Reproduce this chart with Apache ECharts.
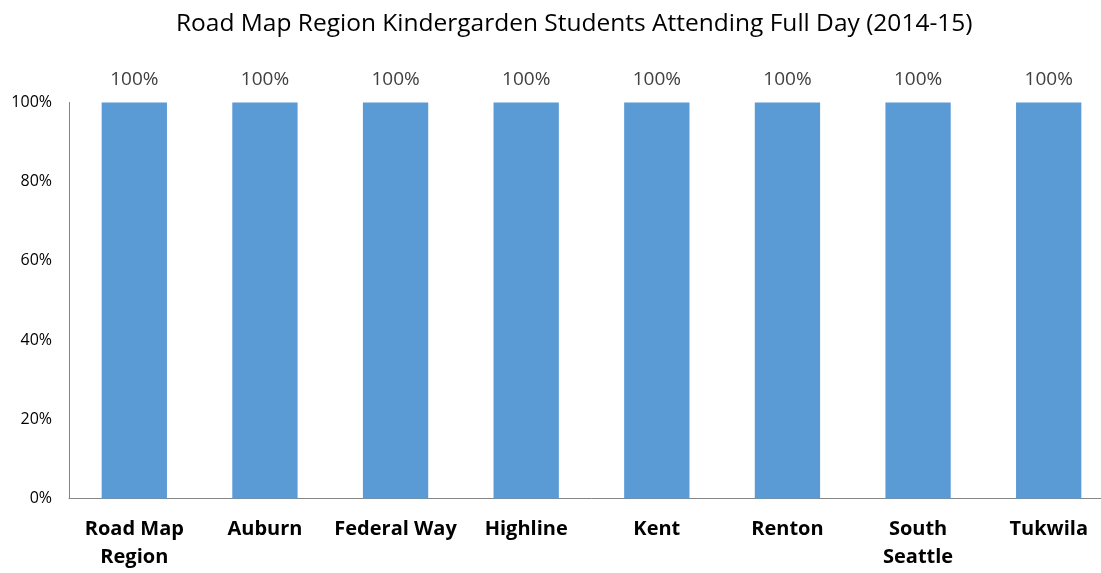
<!DOCTYPE html>
<html><head><meta charset="utf-8">
<script src="https://cdn.jsdelivr.net/npm/echarts@6/dist/echarts.min.js"></script>
<style>html,body{margin:0;padding:0;background:#fff;overflow:hidden;width:1101px;height:573px}#c{width:1130px;height:573px}</style>
</head><body><div id="c"></div>
<script>
const categories = ["Road Map\nRegion","Auburn","Federal Way","Highline","Kent","Renton","South\nSeattle","Tukwila"];
const values = [1,1,1,1,1,1,1,1];
const yTicks = [0,0.2,0.4,0.6,0.8,1.0];
const titleText = "Road Map Region Kindergarden Students Attending Full Day (2014-15)";
const chart = echarts.init(document.getElementById('c'), null, {renderer:'canvas'});
chart.setOption({
  animation:false,
  backgroundColor:'#fff',
  title:{text:titleText,left:171,top:7,textStyle:{fontFamily:'Open Sans',fontWeight:'normal',fontSize:24.5,color:'#000'}},
  grid:{left:69,width:1045,top:102.5,height:396,containLabel:false},
  xAxis:{type:'category',data:categories,
    axisLine:{lineStyle:{color:'#868686',width:1}},axisTick:{show:false},
    axisLabel:{interval:0,fontFamily:'Open Sans',fontWeight:'bold',fontSize:20,color:'#000',margin:17,lineHeight:28}},
  yAxis:{type:'value',min:0,max:1,interval:0.2,
    axisLine:{show:true,lineStyle:{color:'#868686',width:1}},axisTick:{show:false},splitLine:{show:false},
    axisLabel:{fontFamily:'Open Sans',fontSize:16,color:'#000',margin:17,formatter:v=>Math.round(v*100)+'%'}},
  series:[{type:'bar',data:values,barCategoryGap:'50%',itemStyle:{color:'#5B9BD5'},
    label:{show:true,position:'top',distance:13,fontFamily:'Open Sans',fontSize:19,color:'#404040',formatter:p=>Math.round(p.value*100)+'%'}}]
});
</script></body></html>
